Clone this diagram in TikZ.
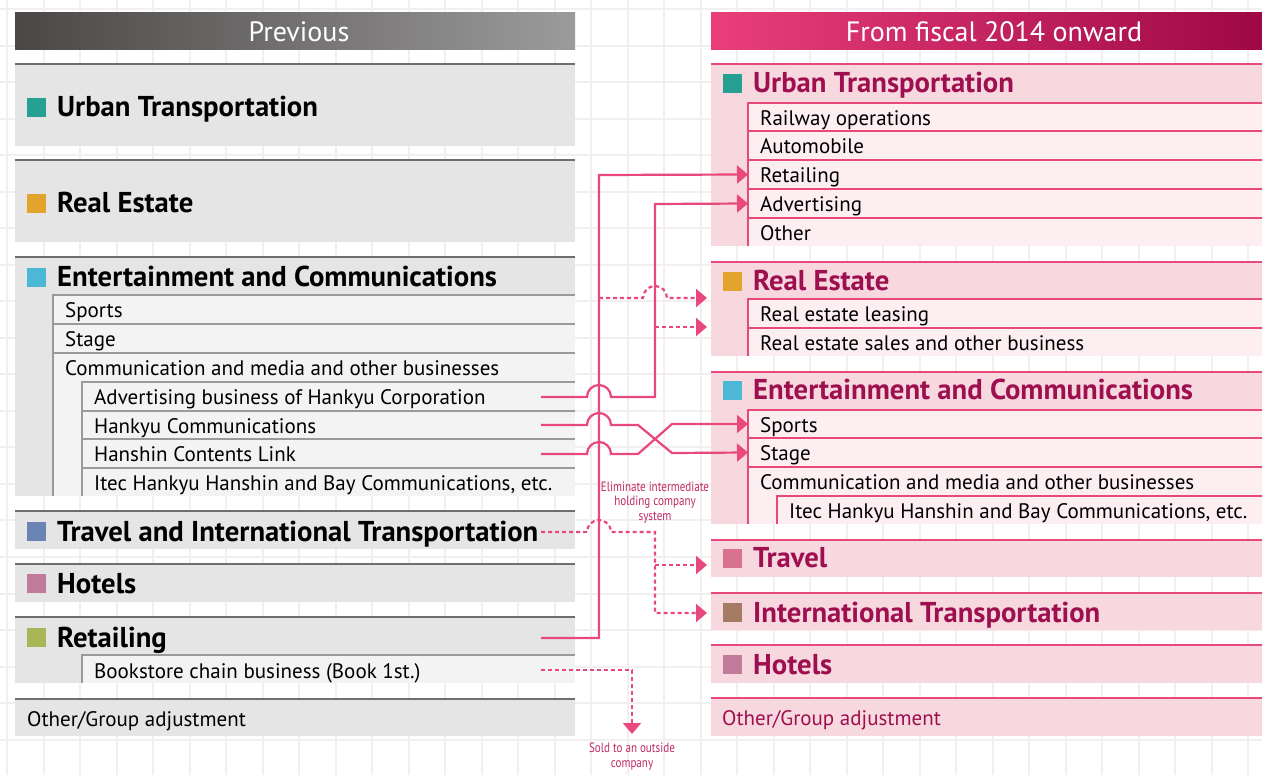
\documentclass[tikz,border=0pt]{standalone}
\usepackage{fontspec}
\setmainfont{PT Sans}
\usetikzlibrary{arrows.meta,calc}
\definecolor{lgray}{HTML}{E5E5E5}
\definecolor{lrowc}{HTML}{F3F3F3}
\definecolor{ltopc}{HTML}{6E6E6E}
\definecolor{lrowline}{HTML}{9A9A9A}
\definecolor{pfill}{HTML}{F8D8DF}
\definecolor{prowc}{HTML}{FDEEF1}
\definecolor{plinec}{HTML}{E8487C}
\definecolor{ptitle}{HTML}{9E0F4F}
\definecolor{connc}{HTML}{E8487C}
\definecolor{lblc}{HTML}{C02A63}
\definecolor{gridc}{HTML}{F1EFEF}
\definecolor{hdL1}{HTML}{4A4746}
\definecolor{hdL2}{HTML}{9C9B9B}
\definecolor{hdR1}{HTML}{E93F7A}
\definecolor{hdR2}{HTML}{9E0845}
\definecolor{cUT}{HTML}{26A093}
\definecolor{cRE}{HTML}{E2A42C}
\definecolor{cEC}{HTML}{4DB7D6}
\definecolor{cTI}{HTML}{6A84B4}
\definecolor{cHO}{HTML}{C07B9B}
\definecolor{cRT}{HTML}{A9B658}
\definecolor{cTR}{HTML}{D9728F}
\definecolor{cIT}{HTML}{A57B63}
\newcommand\Lbox[3]{%
  \node[lbox, minimum height=#3] (#1) at (15,#2) {};
  \draw[ltop] (#1.north west) -- (#1.north east);}
\newcommand\Rbox[3]{%
  \node[pbox, minimum height=#3] (#1) at (711,#2) {};
  \draw[ptop] (#1.north west) -- (#1.north east);}
\newcommand\Ltitle[4]{%
  \node[sq, fill=#3] at (27,#2) {};
  \node[ttl] (#1) at (57,#2) {#4};}
\newcommand\Rtitle[4]{%
  \node[sq, fill=#3] at (723,#2) {};
  \node[ttl, text=ptitle] (#1) at (753,#2) {#4};}
\newcommand\Lrow[5]{%
  \node[lrowb, minimum width={575-#2}, minimum height=#4] (#1) at (#2,#3) {};
  \draw[lrowl] (#1.north east) -- (#1.north west) -- (#1.south west);
  \node[rowt] at ({#2+12},{#3+23}) {#5};}
\newcommand\Rrow[5]{%
  \node[rrowb, minimum width={1262-#2}, minimum height=#4] (#1) at (#2,#3) {};
  \draw[rrowl] (#1.north east) -- (#1.north west) -- (#1.south west);
  \node[rowt] at ({#2+12},{#3+22.5}) {#5};}
\begin{document}
\begin{tikzpicture}[x=1pt,y=-1pt,
  lbox/.style={fill=lgray, inner sep=0, outer sep=0, anchor=north west, minimum width=560},
  pbox/.style={fill=pfill, inner sep=0, outer sep=0, anchor=north west, minimum width=551},
  ltop/.style={draw=ltopc, line width=2.6},
  ptop/.style={draw=plinec, line width=2.6},
  lrowb/.style={fill=lrowc, inner sep=0, outer sep=0, anchor=north west},
  rrowb/.style={fill=prowc, inner sep=0, outer sep=0, anchor=north west},
  lrowl/.style={draw=lrowline, line width=1.3},
  rrowl/.style={draw=plinec, line width=1.2},
  ttl/.style={font=\bfseries\fontsize{28.7}{32}\selectfont, anchor=base west, inner sep=0},
  rowt/.style={font=\fontsize{21}{24}\selectfont, anchor=base west, inner sep=0},
  sq/.style={minimum size=19, inner sep=0, outer sep=0, anchor=south west},
  hdr/.style={font=\fontsize{28}{32}\selectfont, text=white, inner sep=0},
  conn/.style={draw=connc, line width=2.2},
  dconn/.style={conn, dash pattern=on 4pt off 3pt},
  arr/.style={-{Triangle[length=11pt,width=18pt]}},
  lbl/.style={font=\fontsize{13.5}{15}\selectfont, text=lblc, inner sep=0, xscale=0.82},
  gridl/.style={draw=gridc, line width=2}]
\useasboundingbox (0,0) rectangle (1262,775);
\fill[white] (0,0) rectangle (1262,775);
% background grid
\foreach \i in {0,...,34} \draw[gridl] ({7+36.5*\i},0) -- ({7+36.5*\i},775);
\foreach \j in {0,...,21} \draw[gridl] (0,{9.5+36.5*\j}) -- (1262,{9.5+36.5*\j});

% headers
\node[anchor=north west, minimum width=560, minimum height=37, inner sep=0,
      left color=hdL1, right color=hdL2] (lhead) at (15,12) {};
\node[hdr] (lheadt) at (299,32) {Previous};
\node[anchor=north west, minimum width=551, minimum height=37, inner sep=0,
      left color=hdR1, right color=hdR2] (rhead) at (711,12) {};
\node[hdr] (rheadt) at (994,32) {From fiscal 2014 onward};

% ---------------- left column
\Lbox{lUTb}{64}{82}
\Ltitle{lUT}{117}{cUT}{Urban Transportation}
\Lbox{lREb}{160}{82}
\Ltitle{lRE}{213}{cRE}{Real Estate}
\Lbox{lECb}{257}{239}
\Ltitle{lEC}{287}{cEC}{Entertainment and Communications}
\Lrow{lSports}{53}{295}{29}{Sports}
\Lrow{lStage}{53}{324}{29}{Stage}
\Lrow{lComm}{53}{353}{143}{Communication and media and other businesses}
\Lrow{lAdv}{82}{382}{29}{Advertising business of Hankyu Corporation}
\Lrow{lHC}{82}{411}{28}{Hankyu Communications}
\Lrow{lHCL}{82}{439}{29}{Hanshin Contents Link}
\Lrow{lItec}{82}{468}{28}{Itec Hankyu Hanshin and Bay Communications, etc.}
\Lbox{lTIb}{511}{38}
\Ltitle{lTI}{541}{cTI}{Travel and International Transportation}
\Lbox{lHOb}{564}{38}
\Ltitle{lHO}{593}{cHO}{Hotels}
\Lbox{lRTb}{617}{66}
\Ltitle{lRT}{647}{cRT}{Retailing}
\Lrow{lBook}{82}{655}{28}{Bookstore chain business (Book 1st.)}
\Lbox{lOTb}{699}{37}
\node[rowt] (lOT) at (27,726) {Other/Group adjustment};

% ---------------- right column
\Rbox{rUTb}{64}{182}
\Rtitle{rUT}{93}{cUT}{Urban Transportation}
\Rrow{rRail}{748}{103}{28}{Railway operations}
\Rrow{rAuto}{748}{131}{29}{Automobile}
\Rrow{rRet}{748}{160}{29}{Retailing}
\Rrow{rAdv}{748}{189}{29}{Advertising}
\Rrow{rOth}{748}{218}{28}{Other}
\Rbox{rREb}{262}{94}
\Rtitle{rRE}{291}{cRE}{Real Estate}
\Rrow{rLease}{748}{299}{29}{Real estate leasing}
\Rrow{rSales}{748}{328}{28}{Real estate sales and other business}
\Rbox{rECb}{372}{152}
\Rtitle{rEC}{400}{cEC}{Entertainment and Communications}
\Rrow{rSports}{748}{410}{28}{Sports}
\Rrow{rStage}{748}{438}{29}{Stage}
\Rrow{rComm}{748}{467}{57}{Communication and media and other businesses}
\Rrow{rItec}{777}{496}{28}{Itec Hankyu Hanshin and Bay Communications, etc.}
\Rbox{rTRb}{540}{37}
\Rtitle{rTR}{568}{cTR}{Travel}
\Rbox{rITb}{593}{37}
\Rtitle{rIT}{622}{cIT}{International Transportation}
\Rbox{rHOb}{645}{38}
\Rtitle{rHO}{674}{cHO}{Hotels}
\Rbox{rOTb}{698}{38}
\node[rowt, text=ptitle] (rOT) at (722,725) {Other/Group adjustment};

% ---------------- connector points
\coordinate (oAdv) at (541,397);
\coordinate (oHC) at (541,425);
\coordinate (oHCL) at (541,454);
\coordinate (oTI) at (541,532);
\coordinate (oRT) at (541,638);
\coordinate (oBook) at (541,670);
\coordinate (vA) at (599,175);
\coordinate (vB) at (655,204);
\coordinate (jRE1) at (599,298);
\coordinate (jRE2) at (655,327);
\coordinate (tRE1) at (707,298);
\coordinate (tRE2) at (707,327);
\coordinate (jTR) at (655,565);
\coordinate (tTR) at (707,565);
\coordinate (tIT) at (707,613);
\coordinate (tBook) at (632,734);

% solid connectors
\draw[conn, arr] (oRT) -| (vA) -- (rRet.west);
\draw[conn, arr] (oAdv) -- (587,397) arc[start angle=180, end angle=0, radius=12pt] -- (655,397) -- (vB) -- (rAdv.west);
\draw[conn, arr] (oHC) -- (587,425) arc[start angle=180, end angle=0, radius=12pt] -- (638,425) -- (672,453) -- (rStage.west);
\draw[conn, arr] (oHCL) -- (587,454) arc[start angle=180, end angle=0, radius=12pt] -- (638,454) -- (672,424) -- (rSports.west);

% dashed connectors
\draw[dconn, arr] (jRE1) -- (643,298) arc[start angle=180, end angle=0, radius=12pt] -- (tRE1);
\draw[dconn, arr] (jRE2) -- (tRE2);
\draw[dconn, arr] (oTI) -- (587,532) arc[start angle=180, end angle=0, radius=12pt] -- (655,532) |- (tIT);
\draw[dconn, arr] (jTR) -- (tTR);
\draw[dconn, arr] (oBook) -| (tBook);

% labels
\node[lbl] (lblA) at (655,487) {Eliminate intermediate};
\node[lbl] (lblB) at (655,502) {holding company};
\node[lbl] (lblC) at (655,518) {system};
\node[lbl] (lblD) at (632,748) {Sold to an outside};
\node[lbl] (lblE) at (632,765) {company};
\end{tikzpicture}
\end{document}
